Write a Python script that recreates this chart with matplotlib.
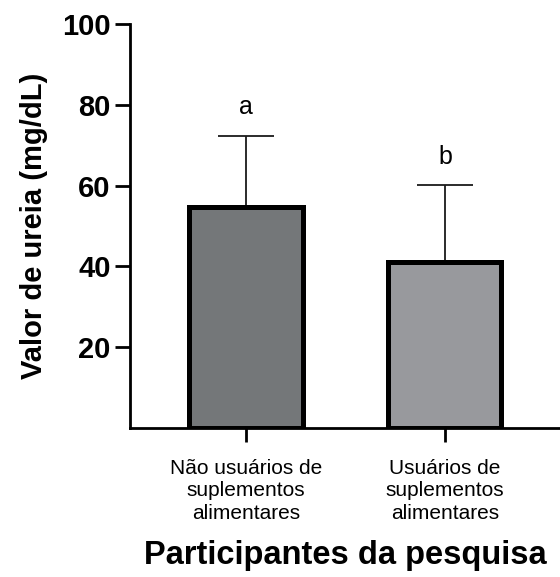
import matplotlib
matplotlib.use("Agg")
import matplotlib.pyplot as plt

categories = ["Não usuários de\nsuplementos\nalimentares", "Usuários de\nsuplementos\nalimentares"]
means = [54.8, 41.0]
err_upper = [17.5, 19.1]
letters = ["a", "b"]
bar_colors = ["#747779", "#98999d"]
yticks = [20, 40, 60, 80, 100]

plt.rcParams["font.family"] = ["Liberation Sans", "DejaVu Sans"]

fig = plt.figure(figsize=(5.6, 5.77), dpi=100)
ax = fig.add_axes([130/560, 1-428/577, 1-130/560, (428-24)/577])

x = list(range(len(categories)))
ax.bar(x, means, width=0.568, color=bar_colors, edgecolor="black", linewidth=3.6, zorder=2)
ax.errorbar(x, means, yerr=[[0]*len(means), err_upper], fmt="none", ecolor="#1a1a1a",
            elinewidth=1.3, capsize=20.5, capthick=1.3, zorder=1)

for xi, m, e, lab in zip(x, means, err_upper, letters):
    ax.annotate(lab, (xi, m + e), xytext=(0, 12), textcoords="offset points",
                ha="center", va="bottom", fontsize=18)

ax.set_xlim(-0.583, 1.578)
ax.set_ylim(0, 100)
ax.set_yticks(yticks)
ax.set_yticklabels([str(t) for t in yticks], fontsize=21, fontweight="bold")
ax.set_xticks(x)
ax.set_xticklabels(categories, fontsize=15, linespacing=1.25)

for s in ["top", "right"]:
    ax.spines[s].set_visible(False)
for s in ["left", "bottom"]:
    ax.spines[s].set_linewidth(2.0)

ax.tick_params(axis="y", length=11, width=2.0, pad=3)
ax.tick_params(axis="x", length=10, width=2.0, pad=12)

ax.set_ylabel("Valor de ureia (mg/dL)", fontsize=21, fontweight="bold", labelpad=10)
ax.set_xlabel("Participantes da pesquisa", fontsize=23.5, fontweight="bold", labelpad=12)

fig.savefig("out.png", dpi=100)
